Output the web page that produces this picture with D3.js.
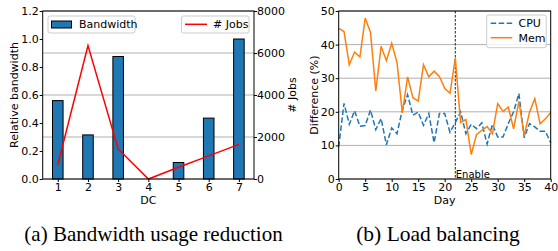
<!DOCTYPE html>
<html>
<head>
<meta charset="utf-8">
<script src="https://cdn.jsdelivr.net/npm/d3@7"></script>
<style>
  body { margin: 0; background: #fff; }
  svg { display: block; }
  .tick text { font-family: "DejaVu Sans", sans-serif; font-size: 11px; fill: #000; }
</style>
</head>
<body>
<svg id="chart" width="558" height="251"></svg>
<script>
// ---- Data ----
const dcs = [1, 2, 3, 4, 5, 6, 7];
const bandwidth = [0.56, 0.315, 0.875, 0, 0.118, 0.435, 1.0];
const jobs = [680, 6350, 1430, 0, 560, 1100, 1650];
const leftYTicks = [0.0, 0.2, 0.4, 0.6, 0.8, 1.0, 1.2];
const rightYTicks = [0, 2000, 4000, 6000, 8000];

const days = d3.range(0, 41);
const cpu = [9.6, 22.5, 16.3, 20.3, 15.7, 15.9, 20.5, 14.7, 18.0, 10.2,
             15.2, 13.5, 20.5, 25.1, 19.0, 19.9, 16.0, 19.5, 10.8, 19.5,
             19.5, 13.9, 16.8, 20.0, 13.5, 16.3, 15.0, 16.7, 10.4, 16.3,
             12.5, 12.5, 16.5, 20.0, 25.4, 12.3, 16.5, 15.5, 14.2, 14.2, 10.8];
const mem = [44.8, 43.9, 34.0, 37.8, 36.3, 47.9, 43.6, 26.2, 39.5, 35.2,
             40.4, 34.7, 19.7, 30.4, 24.2, 23.2, 34.0, 30.4, 32.1, 30.5,
             27.0, 25.5, 36.0, 16.8, 17.7, 7.3, 13.2, 14.5, 15.6, 13.5,
             22.4, 20.1, 21.4, 14.9, 23.1, 12.9, 19.9, 23.9, 16.4, 17.9, 19.8];
const dayTicks = [0, 5, 10, 15, 20, 25, 30, 35, 40];
const diffTicks = [0, 10, 20, 30, 40, 50];
const enableDay = 22;

const svg = d3.select("#chart");
const FONT = "DejaVu Sans, sans-serif";
const blue = "#1f77b4", orange = "#ff7f0e", red = "#ff0000";
const gridColor = "#b0b0b0";

const pTop = 11, pBottom = 179;

// ================= Left chart =================
const L = { x0: 42.7, x1: 254 };
const xL = d3.scaleLinear().domain([0.5, 7.5]).range([L.x0, L.x1]);
const yL = d3.scaleLinear().domain([0, 1.2]).range([pBottom, pTop]);
const yR = d3.scaleLinear().domain([0, 8000]).range([pBottom, pTop]);

const gL = svg.append("g");
gL.append("g").selectAll("line").data(rightYTicks).join("line")
  .attr("x1", L.x0).attr("x2", L.x1)
  .attr("y1", d => yR(d)).attr("y2", d => yR(d))
  .attr("stroke", gridColor).attr("stroke-width", 1);

const barW = xL(0.35) - xL(0);
gL.append("g").selectAll("rect").data(dcs).join("rect")
  .attr("x", (d) => xL(d) - barW / 2)
  .attr("width", barW)
  .attr("y", (d, i) => yL(bandwidth[i]))
  .attr("height", (d, i) => yL(0) - yL(bandwidth[i]))
  .attr("fill", blue).attr("stroke", "#000").attr("stroke-width", 1);

gL.append("path")
  .datum(dcs.map((d, i) => [d, jobs[i]]))
  .attr("fill", "none").attr("stroke", red).attr("stroke-width", 1.5)
  .attr("d", d3.line().x(d => xL(d[0])).y(d => yR(d[1])));

gL.append("rect").attr("x", L.x0).attr("y", pTop)
  .attr("width", L.x1 - L.x0).attr("height", pBottom - pTop)
  .attr("fill", "none").attr("stroke", "#000").attr("stroke-width", 1);

gL.append("g").attr("transform", `translate(0,${pBottom})`)
  .call(d3.axisBottom(xL).tickValues(dcs).tickFormat(d3.format("d")).tickSize(3).tickPadding(0.8))
  .call(g => g.select(".domain").remove());
gL.append("g").attr("transform", `translate(${L.x0},0)`)
  .call(d3.axisLeft(yL).tickValues(leftYTicks).tickFormat(d3.format(".1f")).tickSize(3).tickPadding(1))
  .call(g => g.select(".domain").remove());
gL.append("g").attr("transform", `translate(${L.x1},0)`)
  .call(d3.axisRight(yR).tickValues(rightYTicks).tickFormat(d3.format("d")).tickSize(3).tickPadding(0))
  .call(g => g.select(".domain").remove());

gL.append("text").attr("transform", `translate(18,${(pTop + pBottom) / 2}) rotate(-90)`)
  .attr("text-anchor", "middle").attr("font-family", FONT).attr("font-size", 11)
  .text("Relative bandwidth");
gL.append("text").attr("x", (L.x0 + L.x1) / 2).attr("y", 203.5)
  .attr("text-anchor", "middle").attr("font-family", FONT).attr("font-size", 11)
  .text("DC");
gL.append("text").attr("transform", `translate(295.5,${(pTop + pBottom) / 2}) rotate(-90)`)
  .attr("text-anchor", "middle").attr("font-family", FONT).attr("font-size", 11)
  .text("# Jobs");

function legendBox(g, x, y, w, h) {
  g.append("rect").attr("x", x).attr("y", y).attr("width", w).attr("height", h)
    .attr("rx", 2).attr("fill", "rgba(255,255,255,0.8)").attr("stroke", "#cccccc").attr("stroke-width", 1);
}
legendBox(gL, 48, 16, 87, 17);
gL.append("rect").attr("x", 51.5).attr("y", 21).attr("width", 20).attr("height", 7)
  .attr("fill", blue).attr("stroke", "#000").attr("stroke-width", 1);
gL.append("text").attr("x", 79).attr("y", 28.3).attr("font-family", FONT).attr("font-size", 11).text("Bandwidth");

legendBox(gL, 181.5, 16, 67.5, 17);
gL.append("line").attr("x1", 185).attr("x2", 207).attr("y1", 24.3).attr("y2", 24.3)
  .attr("stroke", red).attr("stroke-width", 1.5);
gL.append("text").attr("x", 213).attr("y", 28.3).attr("font-family", FONT).attr("font-size", 11).text("# Jobs");

// ================= Right chart =================
const R = { x0: 338.7, x1: 550.7 };
const xD = d3.scaleLinear().domain([0, 40]).range([R.x0, R.x1]);
const yD = d3.scaleLinear().domain([0, 50]).range([pBottom, pTop]);
const gR = svg.append("g");

gR.append("g").selectAll("line").data(diffTicks).join("line")
  .attr("x1", R.x0).attr("x2", R.x1)
  .attr("y1", d => yD(d)).attr("y2", d => yD(d))
  .attr("stroke", gridColor).attr("stroke-width", 1);

gR.append("line").attr("x1", xD(enableDay)).attr("x2", xD(enableDay))
  .attr("y1", pTop).attr("y2", pBottom)
  .attr("stroke", "#222").attr("stroke-width", 1).attr("stroke-dasharray", "2.5,1.5");

gR.append("text").attr("x", xD(enableDay) + 0.5).attr("y", 177.5)
  .attr("font-family", FONT).attr("font-size", 10).text("Enable");

gR.append("path").datum(days.map((d, i) => [d, cpu[i]]))
  .attr("fill", "none").attr("stroke", blue).attr("stroke-width", 1.5)
  .attr("stroke-dasharray", "5.5,2.5")
  .attr("d", d3.line().x(d => xD(d[0])).y(d => yD(d[1])));
gR.append("path").datum(days.map((d, i) => [d, mem[i]]))
  .attr("fill", "none").attr("stroke", orange).attr("stroke-width", 1.5)
  .attr("d", d3.line().x(d => xD(d[0])).y(d => yD(d[1])));

gR.append("rect").attr("x", R.x0).attr("y", pTop)
  .attr("width", R.x1 - R.x0).attr("height", pBottom - pTop)
  .attr("fill", "none").attr("stroke", "#000").attr("stroke-width", 1);

gR.append("g").attr("transform", `translate(0,${pBottom})`)
  .call(d3.axisBottom(xD).tickValues(dayTicks).tickFormat(d3.format("d")).tickSize(3).tickPadding(0.8))
  .call(g => g.select(".domain").remove());
gR.append("g").attr("transform", `translate(${R.x0},0)`)
  .call(d3.axisLeft(yD).tickValues(diffTicks).tickFormat(d3.format("d")).tickSize(3).tickPadding(1))
  .call(g => g.select(".domain").remove());

gR.append("text").attr("transform", `translate(318,${(pTop + pBottom) / 2}) rotate(-90)`)
  .attr("text-anchor", "middle").attr("font-family", FONT).attr("font-size", 11)
  .text("Difference (%)");
gR.append("text").attr("x", (R.x0 + R.x1) / 2).attr("y", 203.5)
  .attr("text-anchor", "middle").attr("font-family", FONT).attr("font-size", 11)
  .text("Day");

legendBox(gR, 486.7, 15, 59.5, 32.7);
gR.append("line").attr("x1", 490.7).attr("x2", 512.3).attr("y1", 23.3).attr("y2", 23.3)
  .attr("stroke", blue).attr("stroke-width", 1.5).attr("stroke-dasharray", "5.5,2.5");
gR.append("text").attr("x", 518.5).attr("y", 27.3).attr("font-family", FONT).attr("font-size", 11).text("CPU");
gR.append("line").attr("x1", 490.7).attr("x2", 512.3).attr("y1", 37.7).attr("y2", 37.7)
  .attr("stroke", orange).attr("stroke-width", 1.5);
gR.append("text").attr("x", 518.5).attr("y", 41.7).attr("font-family", FONT).attr("font-size", 11).text("Mem");

// ================= Captions =================
svg.append("text").attr("x", 153.5).attr("y", 240.5).attr("text-anchor", "middle")
  .attr("font-family", "Liberation Serif, Times New Roman, serif").attr("font-size", 21)
  .text("(a) Bandwidth usage reduction");
svg.append("text").attr("x", 438).attr("y", 240.5).attr("text-anchor", "middle")
  .attr("font-family", "Liberation Serif, Times New Roman, serif").attr("font-size", 21.5)
  .text("(b) Load balancing");
</script>
</body>
</html>
